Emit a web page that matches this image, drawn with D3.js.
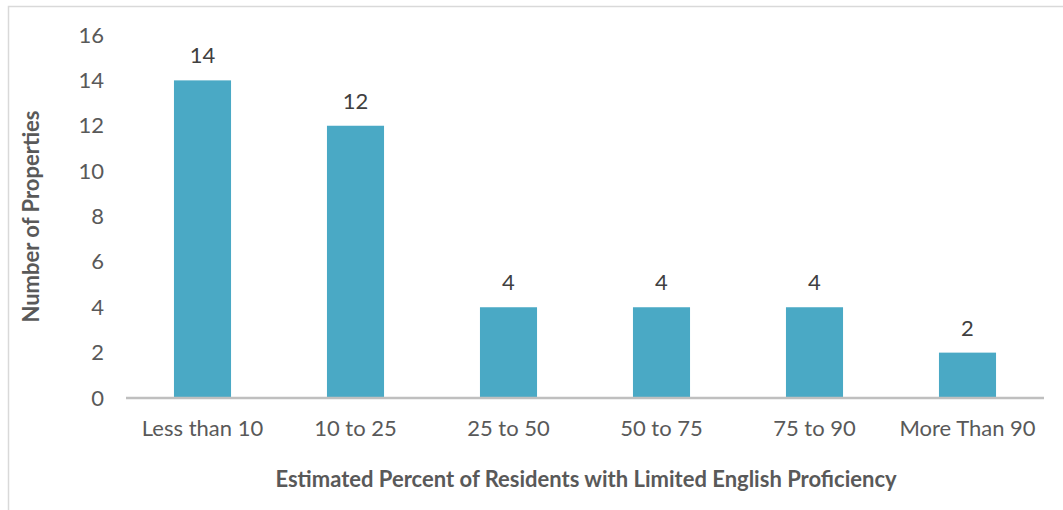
<!DOCTYPE html>
<html>
<head>
<meta charset="utf-8">
<script src="https://cdn.jsdelivr.net/npm/d3@7"></script>
<style>
  html, body { margin: 0; padding: 0; background: #fff; }
  svg { display: block; }
</style>
</head>
<body>
<svg id="chart" width="1063" height="510"></svg>
<script>
const categories = ["Less than 10", "10 to 25", "25 to 50", "50 to 75", "75 to 90", "More Than 90"];
const counts = [14, 12, 4, 4, 4, 2];
const yTicks = [0, 2, 4, 6, 8, 10, 12, 14, 16];
const xTitle = "Estimated Percent of Residents with Limited English Proficiency";
const yTitle = "Number of Properties";

const svg = d3.select("#chart");
const W = 1063, H = 510;
const font = "Lato, 'Open Sans', sans-serif";
const textColor = "#595959";
const fs = 22;

// chart frame
svg.append("rect")
  .attr("x", 8.5).attr("y", 6.5)
  .attr("width", W + 10).attr("height", H + 10)
  .attr("fill", "none").attr("stroke", "#d9d9d9").attr("stroke-width", 1.5);

const plot = { left: 126, right: 1044, top: 35, bottom: 398 };

const x = d3.scaleBand()
  .domain(categories)
  .range([plot.left, plot.right])
  .paddingInner(0.627)
  .paddingOuter(0.3135);

const y = d3.scaleLinear().domain([0, 16]).range([plot.bottom, plot.top]);

// bars
svg.append("g").selectAll("rect")
  .data(categories)
  .join("rect")
  .attr("x", d => x(d))
  .attr("y", (d, i) => y(counts[i]))
  .attr("width", x.bandwidth())
  .attr("height", (d, i) => y(0) - y(counts[i]))
  .attr("fill", "#4aa9c5");

// value labels
svg.append("g").selectAll("text")
  .data(categories)
  .join("text")
  .attr("x", d => x(d) + x.bandwidth() / 2)
  .attr("y", (d, i) => y(counts[i]) - 17)
  .attr("text-anchor", "middle")
  .attr("font-family", font).attr("font-size", fs)
  .attr("fill", "#404040")
  .text((d, i) => counts[i]);

// y axis (labels only)
const yAxis = svg.append("g")
  .attr("transform", `translate(${plot.left - 22},0)`)
  .call(d3.axisLeft(y).tickValues(yTicks).tickSize(0).tickPadding(0));
yAxis.select(".domain").remove();
yAxis.selectAll("text")
  .attr("font-family", font).attr("font-size", fs)
  .attr("fill", textColor);

// x axis
const xAxis = svg.append("g")
  .attr("transform", `translate(0,${plot.bottom})`)
  .call(d3.axisBottom(x).tickSize(0).tickPadding(22));
xAxis.select(".domain")
  .attr("stroke", "#bfbfbf").attr("stroke-width", 2.5)
  .attr("d", `M${plot.left},0H${plot.right}`);
xAxis.selectAll("text")
  .attr("font-family", font).attr("font-size", fs)
  .attr("fill", textColor);

// axis titles
svg.append("text")
  .attr("x", (plot.left + plot.right) / 2 + 1)
  .attr("y", 487)
  .attr("text-anchor", "middle")
  .attr("font-family", font).attr("font-size", fs).attr("font-weight", "bold")
  .attr("fill", textColor)
  .text(xTitle);

svg.append("text")
  .attr("transform", `translate(39,${(plot.top + plot.bottom) / 2}) rotate(-90)`)
  .attr("text-anchor", "middle")
  .attr("font-family", font).attr("font-size", fs).attr("font-weight", "bold")
  .attr("fill", textColor)
  .text(yTitle);
</script>
</body>
</html>
